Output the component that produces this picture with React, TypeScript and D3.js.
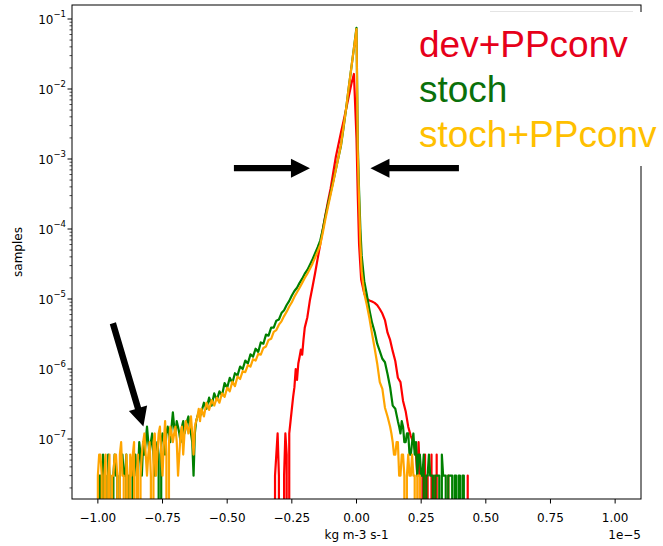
import React from "react";
import * as d3 from "d3";

const W = 663;
const H = 546;
const PLOT = { left: 72, right: 641, top: 5, bottom: 499 };

const X_DOMAIN: [number, number] = [-1.1, 1.1];
const Y_DOMAIN: [number, number] = [Math.pow(10, -7.857), Math.pow(10, -0.8)];

const COUNT = 3e-8; // density of a single sample

const xTicks = [-1, -0.75, -0.5, -0.25, 0, 0.25, 0.5, 0.75, 1];
const yTickExps = [-7, -6, -5, -4, -3, -2, -1];

const seriesNames = ["dev+PPconv", "stoch", "stoch+PPconv"];
const lineColors = ["#ff0000", "#008000", "#ffa500"];
const legendColors = ["#e6001a", "#0a700a", "#ffc000"];

// ---- dev+PPconv (red) ----
const devLeftTail: [number, number][] = [
  [-0.32, 0], [-0.315, 1], [-0.31, 2], [-0.305, 4], [-0.3, 1], [-0.295, 0], [-0.29, 0],
  [-0.285, 0], [-0.28, 1], [-0.275, 4], [-0.27, 2], [-0.265, 0], [-0.26, 4], [-0.255, 6],
];
const devBody: [number, number][] = [
  [-0.25, 2.7e-7], [-0.245, 4e-7], [-0.24, 5.5e-7], [-0.235, 1e-6], [-0.23, 7e-7],
  [-0.225, 1.2e-6], [-0.22, 1.5e-6], [-0.215, 1.9e-6], [-0.21, 1.6e-6], [-0.205, 2.6e-6],
  [-0.2, 3.9e-6], [-0.19, 5.5e-6], [-0.18, 9.7e-6], [-0.17, 1.5e-5], [-0.16, 2.35e-5],
  [-0.15, 3.8e-5], [-0.14, 6.1e-5], [-0.13, 1e-4], [-0.12, 1.6e-4], [-0.11, 2.5e-4],
  [-0.1, 3.8e-4], [-0.09, 6.4e-4], [-0.08, 1.07e-3], [-0.07, 1.6e-3], [-0.06, 2.4e-3],
  [-0.05, 3.5e-3], [-0.04, 5.2e-3], [-0.03, 7.8e-3], [-0.02, 0.0118], [-0.01, 0.0164],
  [0.0, 2e-3], [0.005, 3e-4], [0.01, 6e-5], [0.018, 1.9e-5], [0.03, 1.2e-5], [0.04, 1.0e-5],
  [0.05, 9.5e-6], [0.06, 9.2e-6], [0.07, 8.8e-6], [0.08, 8.2e-6], [0.09, 7.2e-6],
  [0.1, 6.2e-6], [0.11, 5e-6], [0.12, 3.3e-6], [0.13, 2.6e-6], [0.14, 1.8e-6],
  [0.15, 1.3e-6], [0.16, 7.5e-7], [0.17, 6.5e-7], [0.18, 3.5e-7], [0.19, 2.5e-7],
  [0.2, 1.5e-7], [0.21, 1.1e-7], [0.22, 9e-8],
];
const devRightTail: [number, number][] = [
  [0.23, 2], [0.235, 1], [0.24, 3], [0.245, 1], [0.25, 0], [0.255, 1], [0.26, 0], [0.265, 2],
  [0.27, 0], [0.275, 1], [0.28, 0], [0.285, 0], [0.29, 2], [0.295, 0], [0.3, 1], [0.305, 0],
  [0.31, 2], [0.315, 0], [0.35, 0], [0.355, 1], [0.36, 0], [0.425, 0], [0.43, 1], [0.435, 0],
];

// ---- stoch (green) ----
const stochLeftTail: [number, number][] = [
  [-1.005, 0], [-1.0, 0], [-0.995, 1], [-0.99, 1], [-0.985, 0], [-0.98, 2], [-0.975, 1],
  [-0.97, 1], [-0.965, 0], [-0.96, 2], [-0.955, 1], [-0.95, 0], [-0.945, 0], [-0.94, 1],
  [-0.935, 2], [-0.93, 1], [-0.925, 1], [-0.92, 0], [-0.915, 1], [-0.91, 2], [-0.905, 2],
  [-0.9, 1], [-0.895, 1], [-0.89, 2], [-0.885, 0], [-0.88, 1], [-0.875, 1], [-0.87, 0],
  [-0.865, 1], [-0.86, 2], [-0.855, 2], [-0.85, 1], [-0.845, 1], [-0.84, 3], [-0.835, 2],
  [-0.83, 1], [-0.825, 3], [-0.82, 2], [-0.815, 3], [-0.81, 5], [-0.805, 3], [-0.8, 2],
  [-0.795, 3], [-0.79, 4], [-0.785, 2], [-0.78, 1], [-0.775, 2], [-0.77, 3], [-0.765, 2],
  [-0.76, 0], [-0.755, 3], [-0.75, 4], [-0.745, 3], [-0.74, 2], [-0.735, 4], [-0.73, 5],
  [-0.725, 4], [-0.72, 3], [-0.715, 5], [-0.71, 8], [-0.705, 5], [-0.7, 4], [-0.695, 6],
  [-0.69, 5], [-0.685, 4], [-0.68, 3], [-0.675, 5], [-0.67, 6], [-0.665, 4], [-0.66, 5],
  [-0.655, 6], [-0.65, 7], [-0.645, 5], [-0.64, 4], [-0.635, 3], [-0.63, 1], [-0.625, 4],
  [-0.62, 6], [-0.615, 7], [-0.61, 8], [-0.605, 7],
];
const stochBody: [number, number][] = [
  [-0.6, 2.4e-7], [-0.59, 3.3e-7], [-0.58, 2.7e-7], [-0.57, 3.9e-7], [-0.56, 3.0e-7],
  [-0.55, 4.5e-7], [-0.54, 3.6e-7], [-0.53, 4.8e-7], [-0.52, 4.2e-7], [-0.51, 6.3e-7],
  [-0.5, 5.4e-7], [-0.49, 7.5e-7], [-0.48, 6.3e-7], [-0.47, 8.7e-7], [-0.46, 8.1e-7],
  [-0.45, 1.08e-6], [-0.44, 1.0e-6], [-0.43, 1.32e-6], [-0.42, 1.2e-6], [-0.41, 1.62e-6],
  [-0.4, 1.5e-6], [-0.39, 1.95e-6], [-0.38, 1.75e-6], [-0.37, 2.4e-6], [-0.36, 2.3e-6],
  [-0.35, 3.1e-6], [-0.34, 3.0e-6], [-0.33, 3.9e-6], [-0.32, 3.9e-6], [-0.31, 4.9e-6],
  [-0.3, 5.1e-6], [-0.29, 6.3e-6], [-0.28, 6.9e-6], [-0.27, 8.2e-6], [-0.26, 9.4e-6],
  [-0.25, 1.12e-5], [-0.24, 1.3e-5], [-0.23, 1.45e-5], [-0.22, 1.7e-5], [-0.21, 1.95e-5],
  [-0.2, 2.3e-5], [-0.19, 2.6e-5], [-0.18, 3.1e-5], [-0.17, 3.7e-5], [-0.16, 4.5e-5],
  [-0.15, 5.5e-5], [-0.14, 6.9e-5], [-0.13, 1.0e-4], [-0.12, 1.55e-4], [-0.11, 2.3e-4],
  [-0.1, 3.3e-4], [-0.09, 4.8e-4], [-0.08, 7.1e-4], [-0.07, 1.05e-3], [-0.06, 1.55e-3],
  [-0.05, 2.8e-3], [-0.04, 5.3e-3], [-0.03, 0.0105], [-0.02, 0.02], [-0.01, 0.0385],
  [0.0, 0.075], [0.005, 1.6e-3], [0.01, 3.5e-4], [0.015, 1.0e-4], [0.02, 4.2e-5],
  [0.03, 1.8e-5], [0.04, 1.15e-5], [0.05, 7.0e-6], [0.06, 4.6e-6], [0.07, 3.4e-6],
  [0.08, 2.3e-6], [0.09, 1.8e-6], [0.1, 1.4e-6], [0.11, 1.25e-6], [0.12, 8.5e-7],
  [0.13, 5.5e-7], [0.14, 3.0e-7], [0.15, 2.7e-7], [0.16, 1.8e-7],
];
const stochRightTail: [number, number][] = [
  [0.165, 5], [0.17, 4], [0.175, 6], [0.18, 5], [0.185, 3], [0.19, 3], [0.195, 4], [0.2, 4],
  [0.205, 2], [0.21, 2], [0.215, 3], [0.22, 4], [0.225, 2], [0.23, 3], [0.235, 1], [0.24, 2],
  [0.245, 2], [0.25, 1], [0.255, 1], [0.26, 2], [0.265, 0], [0.27, 1], [0.275, 1], [0.28, 2],
  [0.285, 1], [0.29, 1], [0.295, 1], [0.3, 0], [0.305, 1], [0.31, 1], [0.315, 1], [0.32, 1],
  [0.325, 0], [0.33, 2], [0.335, 1], [0.34, 1], [0.345, 1], [0.35, 0], [0.355, 1], [0.36, 1],
  [0.365, 1], [0.37, 1], [0.375, 0], [0.38, 1], [0.385, 1], [0.39, 0], [0.395, 1], [0.4, 1],
  [0.405, 0], [0.41, 1], [0.415, 1], [0.42, 0],
];

// ---- stoch+PPconv (orange) ----
const stochPPLeftTail: [number, number][] = [
  [-1.005, 0], [-1.0, 1], [-0.995, 2], [-0.99, 2], [-0.985, 1], [-0.98, 0], [-0.975, 1],
  [-0.97, 2], [-0.965, 0], [-0.96, 1], [-0.955, 2], [-0.95, 0], [-0.945, 1], [-0.94, 1],
  [-0.935, 2], [-0.93, 2], [-0.925, 1], [-0.92, 0], [-0.915, 2], [-0.91, 3], [-0.905, 1],
  [-0.9, 1], [-0.895, 0], [-0.89, 2], [-0.885, 1], [-0.88, 0], [-0.875, 2], [-0.87, 1],
  [-0.865, 2], [-0.86, 3], [-0.855, 0], [-0.85, 1], [-0.845, 2], [-0.84, 0], [-0.835, 1],
  [-0.83, 2], [-0.825, 3], [-0.82, 4], [-0.815, 2], [-0.81, 1], [-0.805, 2], [-0.8, 3],
  [-0.795, 1], [-0.79, 0], [-0.785, 3], [-0.78, 4], [-0.775, 1], [-0.77, 2], [-0.765, 4],
  [-0.76, 5], [-0.755, 2], [-0.75, 1], [-0.745, 3], [-0.74, 6], [-0.735, 2], [-0.73, 0],
  [-0.725, 3], [-0.72, 5], [-0.715, 4], [-0.71, 3], [-0.705, 4], [-0.7, 5], [-0.695, 3],
  [-0.69, 1], [-0.685, 2], [-0.68, 4], [-0.675, 5], [-0.67, 2], [-0.665, 4], [-0.66, 6],
  [-0.655, 5], [-0.65, 4], [-0.645, 5], [-0.64, 7], [-0.635, 4], [-0.63, 2], [-0.625, 5],
  [-0.62, 6], [-0.615, 7], [-0.61, 9], [-0.605, 6],
];
const stochPPBody: [number, number][] = [
  [-0.6, 2.7e-7], [-0.59, 2.1e-7], [-0.58, 3.3e-7], [-0.57, 2.6e-7], [-0.56, 3.6e-7],
  [-0.55, 3.0e-7], [-0.54, 3.9e-7], [-0.53, 3.3e-7], [-0.52, 4.5e-7], [-0.51, 4.0e-7],
  [-0.5, 5.4e-7], [-0.49, 4.8e-7], [-0.48, 6.6e-7], [-0.47, 5.7e-7], [-0.46, 7.8e-7],
  [-0.45, 7.2e-7], [-0.44, 9.3e-7], [-0.43, 9.0e-7], [-0.42, 1.14e-6], [-0.41, 1.08e-6],
  [-0.4, 1.38e-6], [-0.39, 1.32e-6], [-0.38, 1.65e-6], [-0.37, 1.6e-6], [-0.36, 2.0e-6],
  [-0.35, 2.1e-6], [-0.34, 2.6e-6], [-0.33, 2.7e-6], [-0.32, 3.4e-6], [-0.31, 3.6e-6],
  [-0.3, 4.3e-6], [-0.29, 4.8e-6], [-0.28, 5.7e-6], [-0.27, 6.6e-6], [-0.26, 7.8e-6],
  [-0.25, 9.0e-6], [-0.24, 1.08e-5], [-0.23, 1.25e-5], [-0.22, 1.45e-5], [-0.21, 1.7e-5],
  [-0.2, 2.0e-5], [-0.19, 2.3e-5], [-0.18, 2.7e-5], [-0.17, 3.2e-5], [-0.16, 3.9e-5],
  [-0.15, 4.8e-5], [-0.14, 6.0e-5], [-0.13, 9.0e-5], [-0.12, 1.4e-4], [-0.11, 2.1e-4],
  [-0.1, 3.1e-4], [-0.09, 4.6e-4], [-0.08, 7.0e-4], [-0.07, 1.05e-3], [-0.06, 1.6e-3],
  [-0.05, 2.9e-3], [-0.04, 5.3e-3], [-0.03, 0.0105], [-0.02, 0.02], [-0.01, 0.038],
  [0.0, 0.072], [0.005, 1.2e-3], [0.01, 2.5e-4], [0.015, 6.0e-5], [0.02, 2.5e-5],
  [0.03, 1.2e-5], [0.04, 8.2e-6], [0.05, 5.3e-6], [0.06, 3.2e-6], [0.07, 2.0e-6],
  [0.08, 1.2e-6], [0.09, 6.5e-7], [0.1, 5.2e-7], [0.11, 2.8e-7], [0.12, 2.1e-7],
  [0.13, 1.5e-7],
];
const stochPPRightTail: [number, number][] = [
  [0.135, 4], [0.14, 3], [0.145, 2], [0.15, 2], [0.155, 3], [0.16, 3], [0.165, 1], [0.17, 1],
  [0.175, 2], [0.18, 2], [0.185, 1], [0.19, 0], [0.195, 1], [0.2, 2], [0.205, 1], [0.21, 1],
  [0.215, 2], [0.22, 1], [0.225, 1], [0.23, 0], [0.235, 1], [0.24, 1], [0.245, 1], [0.25, 0],
];

// Annotation arrows, anchored in data coordinates: [x0, y0, xTip, yTip]
const arrows: [number, number, number, number][] = [
  [-0.474, 7.4e-4, -0.18, 7.4e-4],
  [0.396, 7.4e-4, 0.054, 7.4e-4],
  [-0.942, 4.5e-6, -0.824, 1.51e-7],
];

function combine(
  left: [number, number][],
  body: [number, number][],
  right: [number, number][]
): [number, number][] {
  return [
    ...left.map(([x, c]) => [x, c * COUNT] as [number, number]),
    ...body,
    ...right.map(([x, c]) => [x, c * COUNT] as [number, number]),
  ];
}

const series = [
  combine(devLeftTail, devBody, devRightTail),
  combine(stochLeftTail, stochBody, stochRightTail),
  combine(stochPPLeftTail, stochPPBody, stochPPRightTail),
];

const AXIS_FONT = "'DejaVu Sans', sans-serif";

export default function App() {
  const x = d3.scaleLinear().domain(X_DOMAIN).range([PLOT.left, PLOT.right]);
  const y = d3.scaleLog().domain(Y_DOMAIN).range([PLOT.bottom, PLOT.top]);

  const line = d3
    .line<[number, number]>()
    .x((d) => x(d[0]))
    .y((d) => (d[1] > 0 ? y(d[1]) : PLOT.bottom + 6000));

  const fmt = d3.format(".2f");

  const minorTicks: number[] = [];
  for (let e = -8; e <= -1; e++) {
    for (let k = 2; k <= 9; k++) {
      const v = k * Math.pow(10, e);
      if (v >= Y_DOMAIN[0] && v <= Y_DOMAIN[1]) minorTicks.push(v);
    }
  }

  const arrowShapes = arrows.map(([x0, y0, x1, y1], i) => {
    const sx = x(x0), sy = y(y0), tx = x(x1), ty = y(y1);
    const dx = tx - sx, dy = ty - sy;
    const len = Math.hypot(dx, dy);
    const ux = dx / len, uy = dy / len;
    const px = -uy, py = ux;
    const headLen = 19, headHalf = 9.5, shaftHalf = 3.2;
    const bx = tx - ux * headLen, by = ty - uy * headLen;
    const pts = [
      [sx + px * shaftHalf, sy + py * shaftHalf],
      [bx + px * shaftHalf, by + py * shaftHalf],
      [bx + px * headHalf, by + py * headHalf],
      [tx, ty],
      [bx - px * headHalf, by - py * headHalf],
      [bx - px * shaftHalf, by - py * shaftHalf],
      [sx - px * shaftHalf, sy - py * shaftHalf],
    ];
    return <polygon key={i} points={pts.map((p) => p.join(",")).join(" ")} fill="#000" />;
  });

  return (
    <svg
      width={W}
      height={H}
      style={{ position: "absolute", left: 0, top: 0, background: "#fff" }}
    >
      <defs>
        <clipPath id="plotClip">
          <rect
            x={PLOT.left}
            y={PLOT.top}
            width={PLOT.right - PLOT.left}
            height={PLOT.bottom - PLOT.top}
          />
        </clipPath>
      </defs>
      <rect x={0} y={0} width={W} height={H} fill="#fff" />

      <g clipPath="url(#plotClip)">
        {series.map((s, i) => (
          <path
            key={i}
            d={line(s) || ""}
            fill="none"
            stroke={lineColors[i]}
            strokeWidth={2.2}
            strokeLinejoin="round"
          />
        ))}
      </g>

      {/* frame */}
      <rect
        x={PLOT.left}
        y={PLOT.top}
        width={PLOT.right - PLOT.left}
        height={PLOT.bottom - PLOT.top}
        fill="none"
        stroke="#000"
        strokeWidth={1}
      />

      {/* x ticks */}
      <g fontFamily={AXIS_FONT} fontSize={12} fill="#000">
        {xTicks.map((t) => (
          <g key={t}>
            <line x1={x(t)} x2={x(t)} y1={PLOT.bottom} y2={PLOT.bottom + 4.5} stroke="#000" />
            <text x={x(t)} y={PLOT.bottom + 23} textAnchor="middle">
              {fmt(t)}
            </text>
          </g>
        ))}
        <text x={(PLOT.left + PLOT.right) / 2} y={539} textAnchor="middle">
          kg m-3 s-1
        </text>
        <text x={PLOT.right} y={539} textAnchor="end">
          1e−5
        </text>
      </g>

      {/* y ticks */}
      <g fontFamily={AXIS_FONT} fontSize={12} fill="#000">
        {minorTicks.map((v, i) => (
          <line key={i} x1={PLOT.left - 2.5} x2={PLOT.left} y1={y(v)} y2={y(v)} stroke="#000" strokeWidth={0.7} />
        ))}
        {yTickExps.map((e) => {
          const yy = y(Math.pow(10, e));
          return (
            <g key={e}>
              <line x1={PLOT.left - 4.5} x2={PLOT.left} y1={yy} y2={yy} stroke="#000" />
              <text x={PLOT.left - 6} y={yy + 4.5} textAnchor="end">
                10
                <tspan dy={-6.5} fontSize={8.5}>
                  {"−" + Math.abs(e)}
                </tspan>
              </text>
            </g>
          );
        })}
        <text
          transform={`translate(22, ${(PLOT.top + PLOT.bottom) / 2}) rotate(-90)`}
          textAnchor="middle"
        >
          samples
        </text>
      </g>

      {/* pasted legend panel */}
      <rect x={405} y={12} width={250} height={154} fill="#fff" />
      <line x1={490} x2={633} y1={11.5} y2={11.5} stroke="#e4e4e4" strokeWidth={1} />
      <g fontFamily="'Liberation Sans', Arial, sans-serif" fontSize={37}>
        {seriesNames.map((n, i) => (
          <text key={n} x={419} y={57 + i * 45} fill={legendColors[i]}>
            {n}
          </text>
        ))}
      </g>

      {arrowShapes}
    </svg>
  );
}
